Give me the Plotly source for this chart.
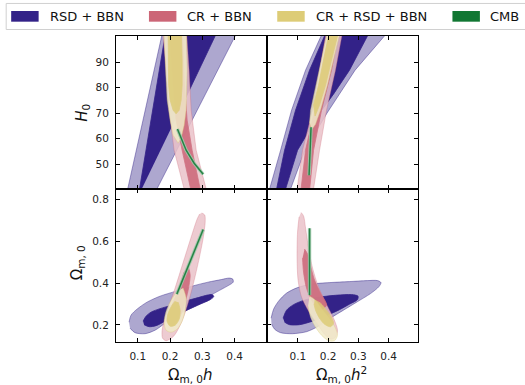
import plotly.graph_objects as go

# ---------------- data ----------------
# Top-left panel: x = Omega_m0 h, y = H0
TL_RSD_OUT = [(0.063, 37.0), (0.120, 70.0), (0.179, 103.0), (0.413, 103.0), (0.280, 70.0), (0.146, 37.0)]
TL_RSD_IN = [(0.102, 37.6), (0.145, 70.0), (0.188, 103.0), (0.350, 103.0), (0.226, 70.0)]
TL_CR_OUT = [(0.1755, 104.6), (0.1786, 100.3), (0.1879, 86.9), (0.1972, 71.2), (0.2127, 55.5), (0.2438, 40.3),
             (0.2562, 35.9), (0.3245, 35.9), (0.3121, 40.3), (0.2811, 55.5), (0.2655, 71.2), (0.2593, 86.9),
             (0.2531, 100.3), (0.2500, 104.6)]
TL_CR_IN = [(0.2003, 104.6), (0.2003, 100.3), (0.2096, 83.0), (0.2189, 67.3), (0.2376, 55.5), (0.2624, 40.3),
            (0.2717, 35.9), (0.3059, 35.9), (0.2935, 40.3), (0.2686, 55.5), (0.2531, 67.3), (0.2438, 83.0),
            (0.2376, 104.6)]
TL_CRRSD_OUT = [(0.1817, 104.6), (0.1817, 100.3), (0.1863, 86.9), (0.1910, 75.2), (0.2003, 67.3), (0.2096, 61.4),
                (0.2252, 58.3), (0.2345, 60.2), (0.2438, 65.3), (0.2500, 71.2), (0.2531, 86.9), (0.2500, 100.3),
                (0.2500, 104.6)]
TL_CRRSD_IN = [(0.1941, 104.6), (0.1941, 100.3), (0.1941, 90.9), (0.1957, 81.0), (0.2003, 75.2), (0.2096, 71.2),
               (0.2189, 69.8), (0.2283, 71.2), (0.2345, 75.2), (0.2376, 81.0), (0.2376, 90.9), (0.2345, 100.3),
               (0.2345, 104.6)]
TL_CMB = [(0.2230, 63.8), (0.2345, 60.2), (0.2500, 55.5), (0.2748, 50.4), (0.3028, 46.1)]

# Top-right panel: x = Omega_m0 h^2, y = H0
TR_RSD_OUT = [(-0.0066, 35.9), (0.0066, 40.3), (0.0429, 55.5), (0.0792, 71.2), (0.1254, 86.9), (0.1766, 100.3),
              (0.1947, 105.8), (0.4224, 105.8), (0.3861, 100.3), (0.2891, 86.9), (0.1960, 70.0), (0.1234, 55.5),
              (0.0759, 40.3), (0.0660, 35.9)]
TR_RSD_IN = [(0.0396, 35.9), (0.0297, 40.3), (0.0561, 55.5), (0.0924, 71.2), (0.1386, 86.9), (0.1881, 100.3),
             (0.2046, 105.8), (0.3531, 105.8), (0.3300, 100.3), (0.2706, 86.9), (0.2178, 77.5), (0.1716, 70.0),
             (0.0990, 55.5), (0.0594, 40.3)]
TR_CR_OUT = [(0.2013, 105.8), (0.1914, 100.3), (0.1716, 86.9), (0.1485, 71.2), (0.1155, 55.5), (0.0990, 40.3),
             (0.0924, 35.9), (0.1452, 35.9), (0.1518, 40.3), (0.1716, 55.5), (0.1947, 71.2), (0.2244, 86.9),
             (0.2442, 100.3), (0.2541, 105.8)]
TR_CR_IN = [(0.2112, 105.8), (0.2013, 100.3), (0.1782, 86.9), (0.1551, 71.2), (0.1254, 55.5), (0.1106, 40.3),
            (0.1056, 35.9), (0.1353, 35.9), (0.1386, 40.3), (0.1518, 55.5), (0.1782, 71.2), (0.2112, 86.9),
            (0.2310, 100.3), (0.2409, 105.8)]
TR_CRRSD_OUT = [(0.2046, 105.8), (0.1947, 100.3), (0.1782, 90.9), (0.1584, 81.0), (0.1419, 71.2), (0.1386, 66.5),
                (0.1452, 63.4), (0.1584, 65.7), (0.1749, 71.2), (0.1980, 81.0), (0.2178, 90.9), (0.2376, 100.3),
                (0.2475, 105.8)]
TR_CRRSD_IN = [(0.2079, 105.8), (0.2013, 100.3), (0.1848, 90.9), (0.1683, 81.0), (0.1518, 73.2), (0.1568, 68.9),
               (0.1716, 73.2), (0.1914, 81.0), (0.2112, 90.9), (0.2310, 100.3), (0.2376, 105.8)]
TR_CMB = [(0.1436, 64.5), (0.1403, 55.5), (0.1370, 45.7)]

# Bottom-left panel: x = Omega_m0 h, y = Omega_m0
BL_RSD_OUT = [(0.0730, 0.2130), (0.0792, 0.2466), (0.0978, 0.2754), (0.1289, 0.3090), (0.1693, 0.3376),
              (0.2189, 0.3616), (0.2686, 0.3856), (0.3183, 0.4048), (0.3587, 0.4170), (0.3835, 0.4242),
              (0.3944, 0.4194), (0.3960, 0.4050), (0.3804, 0.3882), (0.3463, 0.3594), (0.3090, 0.3258),
              (0.2686, 0.2898), (0.2252, 0.2514), (0.1848, 0.2082), (0.1537, 0.1746), (0.1227, 0.1578),
              (0.0916, 0.1626), (0.0761, 0.1842)]
BL_RSD_IN = [(0.1165, 0.2178), (0.1258, 0.2418), (0.1413, 0.2610), (0.1693, 0.2778), (0.2065, 0.2946),
             (0.2469, 0.3138), (0.2873, 0.3306), (0.3152, 0.3426), (0.3307, 0.3450), (0.3354, 0.3354),
             (0.3245, 0.3210), (0.2935, 0.2994), (0.2562, 0.2730), (0.2189, 0.2442), (0.1848, 0.2178),
             (0.1568, 0.1962), (0.1351, 0.1914), (0.1196, 0.2010)]
BL_CR_OUT = [(0.2981, 0.7362), (0.3075, 0.7266), (0.3090, 0.6930), (0.3028, 0.6162), (0.2919, 0.5298),
             (0.2780, 0.4338), (0.2640, 0.3474), (0.2484, 0.2658), (0.2314, 0.1986), (0.2112, 0.1458),
             (0.1879, 0.1242), (0.1770, 0.1362), (0.1755, 0.1746), (0.1848, 0.2322), (0.2003, 0.3042),
             (0.2158, 0.3762), (0.2314, 0.4530), (0.2500, 0.5442), (0.2686, 0.6354), (0.2842, 0.7074),
             (0.2919, 0.7314)]
BL_CR_IN = [(0.2562, 0.4818), (0.2624, 0.4386), (0.2562, 0.3666), (0.2438, 0.2946), (0.2283, 0.2322),
            (0.2065, 0.1938), (0.1910, 0.2226), (0.2065, 0.2946), (0.2252, 0.3666), (0.2438, 0.4530)]
BL_CRRSD_OUT = [(0.2407, 0.3762), (0.2500, 0.3282), (0.2469, 0.2706), (0.2376, 0.2178), (0.2220, 0.1794),
                (0.2034, 0.1650), (0.1879, 0.1746), (0.1817, 0.2130), (0.1879, 0.2658), (0.2034, 0.3186),
                (0.2220, 0.3618)]
BL_CRRSD_IN = [(0.2252, 0.3090), (0.2314, 0.2706), (0.2283, 0.2274), (0.2158, 0.1986), (0.2003, 0.1938),
               (0.1910, 0.2178), (0.1941, 0.2562), (0.2065, 0.2946), (0.2158, 0.3138)]
BL_CMB = [(0.2211, 0.3474), (0.3028, 0.6570)]

# Bottom-right panel: x = Omega_m0 h^2, y = Omega_m0
BR_RSD_OUT = [(0.0116, 0.2322), (0.0198, 0.2754), (0.0363, 0.3138), (0.0627, 0.3522), (0.0990, 0.3786),
              (0.1452, 0.3954), (0.2046, 0.4026), (0.2706, 0.4074), (0.3300, 0.4122), (0.3630, 0.4122),
              (0.3746, 0.4026), (0.3680, 0.3834), (0.3399, 0.3498), (0.2970, 0.3114), (0.2508, 0.2706),
              (0.2046, 0.2298), (0.1650, 0.1914), (0.1287, 0.1674), (0.0825, 0.1578), (0.0429, 0.1626),
              (0.0231, 0.1794), (0.0132, 0.2034)]
BR_RSD_IN = [(0.0512, 0.2322), (0.0627, 0.2706), (0.0858, 0.2970), (0.1221, 0.3186), (0.1716, 0.3330),
             (0.2310, 0.3426), (0.2772, 0.3450), (0.2987, 0.3378), (0.2970, 0.3210), (0.2706, 0.2994),
             (0.2376, 0.2730), (0.1947, 0.2442), (0.1485, 0.2178), (0.1056, 0.2010), (0.0726, 0.2010),
             (0.0561, 0.2130)]
BR_CR_OUT = [(0.1106, 0.7386), (0.1188, 0.7218), (0.1254, 0.6642), (0.1353, 0.5682), (0.1485, 0.4722),
             (0.1683, 0.3810), (0.1947, 0.2994), (0.2178, 0.2322), (0.2310, 0.1746), (0.2244, 0.1410),
             (0.2096, 0.1314), (0.1881, 0.1554), (0.1650, 0.2034), (0.1353, 0.2658), (0.1122, 0.3330),
             (0.1007, 0.4146), (0.0974, 0.5202), (0.0990, 0.6450), (0.1040, 0.7170)]
BR_CR_IN = [(0.1221, 0.5634), (0.1320, 0.5394), (0.1419, 0.4818), (0.1551, 0.4146), (0.1749, 0.3522),
            (0.1947, 0.2946), (0.1716, 0.2706), (0.1452, 0.3186), (0.1287, 0.3762), (0.1188, 0.4530),
            (0.1155, 0.5202)]
BR_CRRSD_OUT = [(0.1386, 0.3378), (0.1584, 0.3186), (0.1782, 0.2802), (0.2046, 0.2322), (0.2244, 0.1842),
                (0.2310, 0.1506), (0.2211, 0.1242), (0.2013, 0.1242), (0.1782, 0.1506), (0.1584, 0.1890),
                (0.1419, 0.2370), (0.1337, 0.2898)]
BR_CRRSD_IN = [(0.1551, 0.3186), (0.1749, 0.3042), (0.1947, 0.2706), (0.2112, 0.2370), (0.2178, 0.2082),
               (0.2079, 0.1914), (0.1881, 0.2034), (0.1716, 0.2322), (0.1584, 0.2706), (0.1535, 0.2994)]
BR_CMB = [(0.1386, 0.3426), (0.1386, 0.6628)]

LEGEND_LABELS = ["RSD + BBN", "CR + BBN", "CR + RSD + BBN", "CMB"]
X_TICKS = [0.1, 0.2, 0.3, 0.4]
H0_TICKS = [50, 60, 70, 80, 90]
OM_TICKS = [0.2, 0.4, 0.6, 0.8]

# ---------------- styling ----------------
MAIN = {"RSD": "#332288", "CR": "#CC6677", "CRRSD": "#DDCC77", "CMB": "#117733"}
PALE = {"RSD": "#ada7cf", "CR": "#ebc2c9", "CRRSD": "#f1ebc9", "CMB": "#a0c9ad"}
EDGE = {"RSD": "rgba(51,34,136,0.55)", "CR": "rgba(204,102,119,0.45)", "CRRSD": "rgba(221,204,119,0.5)"}
OPAC = {"RSD": 1.0, "CR": 0.85, "CRRSD": 0.85}

W, Hh = 525, 385
ML, MR, MT, MB = 116, 106.5, 36, 43.3
PW = W - ML - MR
PH = Hh - MT - MB


def pxx(px):
    return (px - ML) / PW


def pxy(py):
    return (Hh - MB - py) / PH


fig = go.Figure()

panels = [
    ("x", "y", "linear", {"RSD": (TL_RSD_OUT, TL_RSD_IN), "CR": (TL_CR_OUT, TL_CR_IN),
                          "CRRSD": (TL_CRRSD_OUT, TL_CRRSD_IN)}, TL_CMB),
    ("x2", "y2", "linear", {"RSD": (TR_RSD_OUT, TR_RSD_IN), "CR": (TR_CR_OUT, TR_CR_IN),
                            "CRRSD": (TR_CRRSD_OUT, TR_CRRSD_IN)}, TR_CMB),
    ("x3", "y3", "spline", {"RSD": (BL_RSD_OUT, BL_RSD_IN), "CR": (BL_CR_OUT, BL_CR_IN),
                            "CRRSD": (BL_CRRSD_OUT, BL_CRRSD_IN)}, BL_CMB),
    ("x4", "y4", "spline", {"RSD": (BR_RSD_OUT, BR_RSD_IN), "CR": (BR_CR_OUT, BR_CR_IN),
                            "CRRSD": (BR_CRRSD_OUT, BR_CRRSD_IN)}, BR_CMB),
]

for xa, ya, shp, conts, cmb in panels:
    for key in ["RSD", "CR", "CRRSD"]:
        out, inn = conts[key]
        for pts, fillc, linec in [(out, PALE[key], EDGE[key]), (inn, MAIN[key], MAIN[key])]:
            line = dict(color=linec, width=0.8, shape=shp)
            if shp == "spline":
                line["smoothing"] = 0.8
            fig.add_trace(go.Scatter(
                x=[p[0] for p in pts], y=[p[1] for p in pts], xaxis=xa, yaxis=ya,
                mode="lines", fill="toself", fillcolor=fillc, opacity=OPAC[key],
                line=line, hoverinfo="skip", showlegend=False))
    fig.add_trace(go.Scatter(x=[p[0] for p in cmb], y=[p[1] for p in cmb], xaxis=xa, yaxis=ya,
                             mode="lines", line=dict(color=PALE["CMB"], width=3.4),
                             opacity=0.9, hoverinfo="skip", showlegend=False))
    fig.add_trace(go.Scatter(x=[p[0] for p in cmb], y=[p[1] for p in cmb], xaxis=xa, yaxis=ya,
                             mode="lines", line=dict(color=MAIN["CMB"], width=1.5),
                             opacity=0.85, hoverinfo="skip", showlegend=False))

TICKFONT = dict(family="DejaVu Sans", size=10.5, color="#222")
common = dict(showline=True, linecolor="black", linewidth=1, mirror="allticks", ticks="inside",
              ticklen=4, tickcolor="black", tickwidth=1, showgrid=False, zeroline=False, tickfont=TICKFONT)

fig.update_layout(
    width=W, height=Hh, margin=dict(l=ML, r=MR, t=MT, b=MB),
    paper_bgcolor="white", plot_bgcolor="white", showlegend=False,
    xaxis=dict(domain=[0, 0.5], anchor="y", range=[0.0326, 0.5006], tickvals=X_TICKS, showticklabels=False, **common),
    yaxis=dict(domain=[0.5, 1], anchor="x", range=[40.3, 100.3], tickvals=H0_TICKS,
               ticktext=[str(v) for v in H0_TICKS], ticklabelstandoff=4, **common),
    xaxis2=dict(domain=[0.5, 1], anchor="y2", range=[-0.002, 0.497], tickvals=X_TICKS, showticklabels=False, **common),
    yaxis2=dict(domain=[0.5, 1], anchor="x2", range=[40.3, 100.3], tickvals=H0_TICKS, showticklabels=False, **common),
    xaxis3=dict(domain=[0, 0.5], anchor="y3", range=[0.0326, 0.5006], tickvals=X_TICKS,
                ticktext=[str(v) for v in X_TICKS], ticklabelstandoff=4, **common),
    yaxis3=dict(domain=[0, 0.5], anchor="x3", range=[0.118, 0.851], tickvals=OM_TICKS,
                ticktext=[str(v) for v in OM_TICKS], ticklabelstandoff=4, **common),
    xaxis4=dict(domain=[0.5, 1], anchor="y4", range=[-0.002, 0.497], tickvals=X_TICKS,
                ticktext=[str(v) for v in X_TICKS], ticklabelstandoff=4, **common),
    yaxis4=dict(domain=[0, 0.5], anchor="x4", range=[0.118, 0.851], tickvals=OM_TICKS, showticklabels=False, **common),
)

# axis titles
TITLEFONT = dict(family="DejaVu Sans", size=15, color="#111")
anns = [
    dict(text="<i>H</i><sub>0</sub>", x=pxx(81.7), y=pxy(113), textangle=-90),
    dict(text="Ω<sub>m, 0</sub>", x=pxx(77), y=pxy(263), textangle=-90),
    dict(text="Ω<sub>m, 0</sub><i>h</i>", x=pxx(191), y=pxy(375), textangle=0),
    dict(text="Ω<sub>m, 0</sub><i>h</i><sup>2</sup>", x=pxx(342), y=pxy(374), textangle=0),
]
for a in anns:
    fig.add_annotation(xref="paper", yref="paper", showarrow=False, xanchor="center", yanchor="middle",
                       font=TITLEFONT, **a)

# manual legend (frame, swatches, labels)
fig.add_shape(type="rect", xref="paper", yref="paper", x0=pxx(6), x1=pxx(560), y0=pxy(29.5), y1=pxy(3.5),
              line=dict(color="#d0d0d0", width=1), fillcolor="white", layer="above")
swatch_x = [11, 149, 277.5, 453]
text_x = [49, 186.5, 315, 490]
for lab, key, sx, tx in zip(LEGEND_LABELS, ["RSD", "CR", "CRRSD", "CMB"], swatch_x, text_x):
    fig.add_shape(type="rect", xref="paper", yref="paper", x0=pxx(sx), x1=pxx(sx + 27.5), y0=pxy(21.7),
                  y1=pxy(11), line=dict(width=0), fillcolor=MAIN[key], layer="above")
    fig.add_annotation(xref="paper", yref="paper", x=pxx(tx - 1), y=pxy(16.5), text=lab, showarrow=False,
                       xanchor="left", yanchor="middle", font=dict(family="DejaVu Sans", size=13, color="#111"))

fig.write_html("out.html")
